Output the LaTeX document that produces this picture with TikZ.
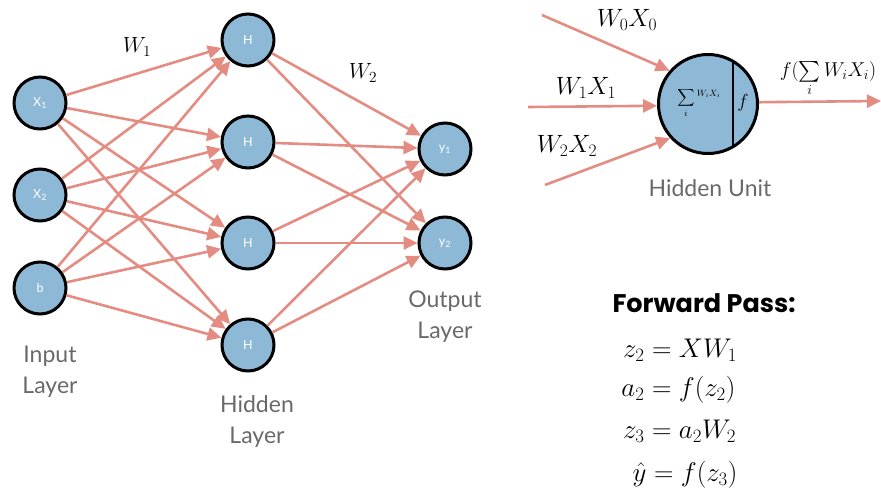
\documentclass[tikz,border=0pt]{standalone}
\usepackage{fix-cm}
\usepackage{exscale}
\usepackage[no-math]{fontspec}
\newfontfamily\lato{Lato}
\newfontfamily\heavy{Poppins}
\usetikzlibrary{arrows.meta}
\definecolor{edgecol}{RGB}{228,140,130}
\definecolor{unitfill}{RGB}{141,185,214}
\definecolor{labelgray}{RGB}{105,105,105}

\begin{document}
\begin{tikzpicture}[x=1pt,y=-1pt,
  neuron/.style={circle,draw=black,line width=3pt,fill=unitfill,minimum size=52pt,
    inner sep=0pt,text=white,font=\lato\fontsize{12.5}{12.5}\selectfont},
  link/.style={draw=edgecol,line width=2.6pt,-{Triangle[length=14pt,width=13pt]}},
  layerlbl/.style={align=center,text=labelgray,font=\lato\fontsize{23}{31}\selectfont},
  wlbl/.style={font=\fontsize{22}{22}\selectfont},
  prodlbl/.style={font=\fontsize{25}{25}\selectfont},
  eqn/.style={anchor=base west,font=\fontsize{27}{27}\selectfont},
]
\useasboundingbox (0,0) rectangle (881,490);

% input, hidden and output layers
\node[neuron] (x1) at (40,103) {X\textsubscript{1}};
\node[neuron] (x2) at (40,195) {X\textsubscript{2}};
\node[neuron] (b)  at (40,288) {b};
\node[neuron] (h1) at (248,40)  {H};
\node[neuron] (h2) at (248,142) {H};
\node[neuron] (h3) at (248,243) {H};
\node[neuron] (h4) at (248,345) {H};
\node[neuron] (y1) at (445,149) {y\textsubscript{1}};
\node[neuron] (y2) at (445,243) {y\textsubscript{2}};

% fully connected weights
\foreach \s in {x1,x2,b}
  \foreach \t in {h1,h2,h3,h4}
    \draw[link] (\s) -- (\t);
\foreach \s in {h1,h2,h3,h4}
  \foreach \t in {y1,y2}
    \draw[link] (\s) -- (\t);

\node[wlbl] (w1) at (137,47) {$W_1$};
\node[wlbl] (w2) at (363,73) {$W_2$};

\node[layerlbl] (inlbl)  at (50,372)  {Input\\Layer};
\node[layerlbl] (hidlbl) at (257,421) {Hidden\\Layer};
\node[layerlbl] (outlbl) at (445,317) {Output\\Layer};

% single hidden unit: weighted sum, then activation
\node[neuron,minimum size=99pt] (hu) at (708,104) {};
\draw[line width=2pt] (733,60) -- (733,148);
\node (sum) at (699,103) {\fontsize{13}{13}\selectfont$\displaystyle\sum_i{}^{W_iX_i}$};
\node (act) at (743,103) {\fontsize{19}{19}\selectfont$f$};

\coordinate (in0) at (542,15);
\coordinate (in1) at (528,107);
\coordinate (in2) at (545,185);
\coordinate (out) at (881,101);
\draw[link] (in0) -- (hu.139);
\draw[link] (in1) -- (hu.182);
\draw[link] (in2) -- (hu.222);
\draw[link] (hu.2) -- (out);

\node[prodlbl] (l0) at (627,20)  {$W_0X_0$};
\node[prodlbl] (l1) at (586,88)  {$W_1X_1$};
\node[prodlbl] (l2) at (567,146) {$W_2X_2$};
\node[font=\fontsize{20}{20}\selectfont] (lo) at (828,79) {$f(\sum\limits_i W_iX_i)$};
\node[layerlbl] (hulbl) at (710,188) {Hidden Unit};

% forward pass equations
\node[anchor=base west,font=\heavy\bfseries\fontsize{25.5}{25.5}\selectfont] (fp) at (609,312) {Forward Pass:};
\node[eqn] (e1) at (607,357) {\makebox[34pt][r]{$z_2$}${}= XW_1$};
\node[eqn] (e2) at (607,396) {\makebox[34pt][r]{$a_2$}${}= f(z_2)$};
\node[eqn] (e3) at (607,438) {\makebox[34pt][r]{$z_3$}${}= a_2W_2$};
\node[eqn] (e4) at (609,481) {\makebox[34pt][r]{$\hat{y}$}${}= f(z_3)$};
\end{tikzpicture}
\end{document}
